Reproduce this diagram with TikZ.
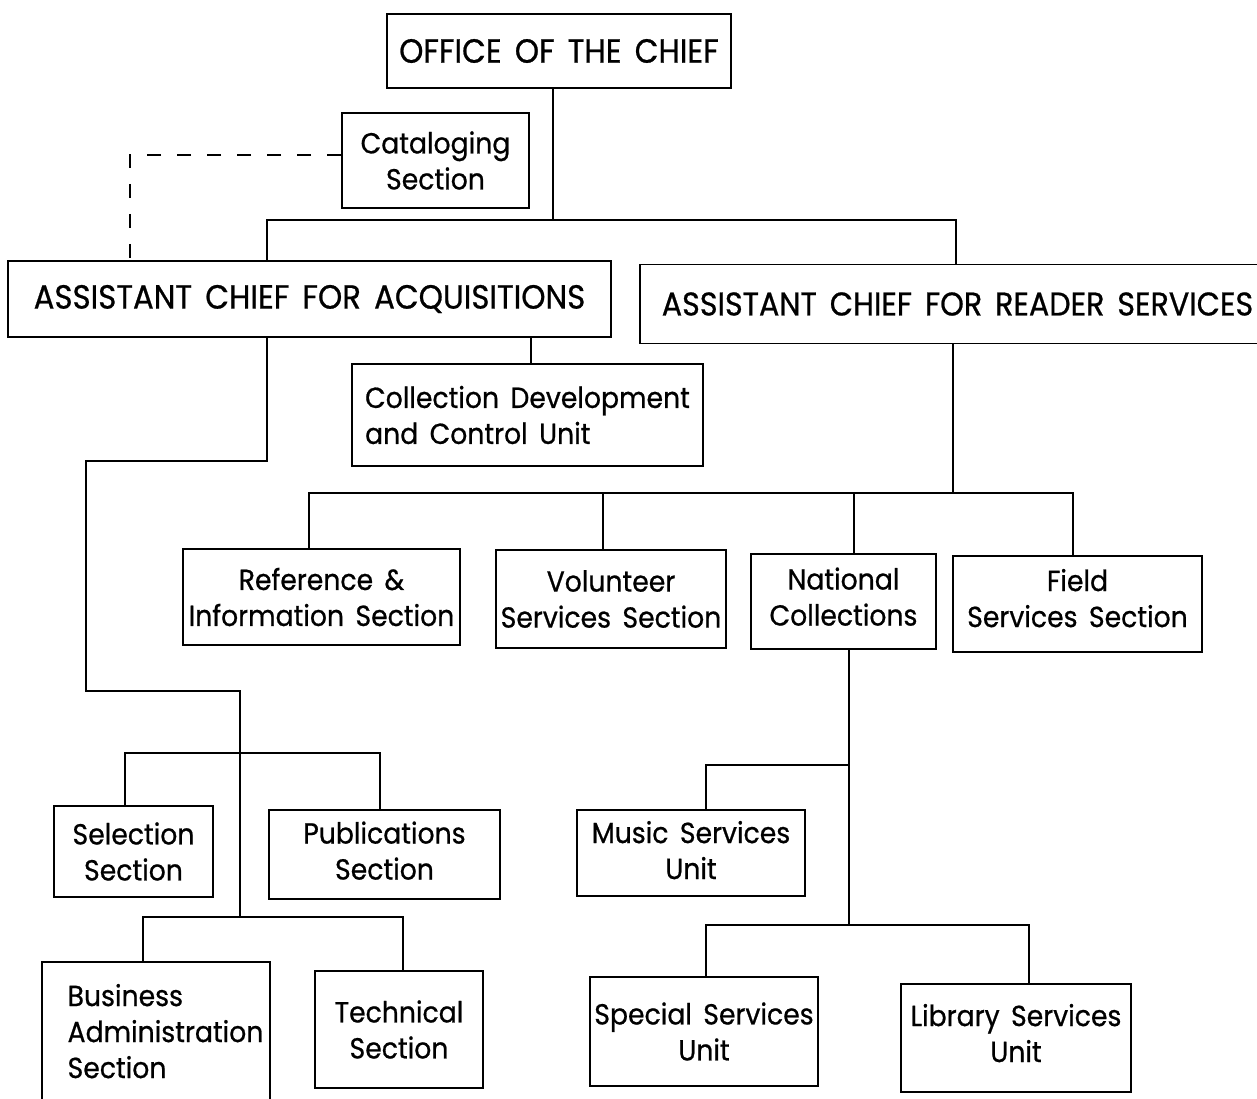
\documentclass[tikz,border=0pt]{standalone}
\usepackage{fontspec}
\setmainfont{Poppins}[FakeStretch=0.92, FakeBold=0.7, WordSpace=1.6]
\begin{document}
\begin{tikzpicture}[x=1pt,y=-1pt,
  unit/.style={draw, line width=1.6pt, rectangle, inner sep=0pt,
    font=\fontsize{29}{36}\selectfont, align=center},
  head/.style={unit, font=\fontsize{33.5}{40}\selectfont},
  wh/.style 2 args={minimum width=#1pt, minimum height=#2pt},
  lift/.style={text depth=#1pt},
  conn/.style={line width=1.6pt},
  link/.style={line width=1.6pt, dash pattern=on 14pt off 16pt}]
\useasboundingbox (0,0) rectangle (1257,1098);
\clip (0,0) rectangle (1257,1098);

% top level
\node[head, wh={344}{74}] (office) at (559,51) {OFFICE OF THE CHIEF};
\node[unit, wh={187}{95}] (cat) at (435.5,160.5) {Cataloging\\Section};
\node[head, wh={603}{76}] (acq) at (309.5,299) {ASSISTANT CHIEF FOR ACQUISITIONS};
\node[head, wh={635}{79}, font=\fontsize{32.8}{40}\selectfont] (rs) at (957.5,304) {ASSISTANT CHIEF FOR READER SERVICES};

% acquisitions branch
\node[unit, wh={351}{102}, align=left] (cdc) at (527.5,415) {Collection Development\\and Control Unit};
\node[unit, wh={159}{91}] (sel) at (133.5,851.5) {Selection\\Section};
\node[unit, wh={231}{89}, lift=8] (pub) at (384.5,854.5) {Publications\\Section};
\node[unit, wh={228}{148}, align=left, lift=10] (bus) at (156,1036)
  {\hspace*{19pt}Business\\\hspace*{19pt}Administration\\\hspace*{19pt}Section};
\node[unit, wh={168}{117}] (tech) at (399,1029.5) {Technical\\Section};

% reader services branch
\node[unit, wh={277}{96}] (ref) at (321.5,597) {Reference \&\\Information Section};
\node[unit, wh={230}{98}] (vol) at (611,599) {Volunteer\\Services Section};
\node[unit, wh={185}{95}, lift=10] (nat) at (843.5,601.5) {National\\Collections};
\node[unit, wh={249}{96}, lift=12] (field) at (1077.5,604) {Field\\Services Section};
\node[unit, wh={228}{86}, lift=6] (music) at (691,853) {Music Services\\Unit};
\node[unit, wh={228}{109}] (spec) at (704,1031.5) {Special Services\\Unit};
\node[unit, wh={230}{108}, lift=10] (lib) at (1016,1038) {Library Services\\Unit};

% office to assistant chiefs
\coordinate (t) at (553,220);
\coordinate (tl) at (267,220);
\coordinate (tr) at (956,220);
\draw[conn] (office.south -| t) -- (t);
\draw[conn] (acq.north -| tl) -- (tl) -- (tr) -- (rs.north -| tr);

% cataloging liaison
\coordinate (dc) at (130,155);
\draw[link] (cat.west |- dc) -- (dc) -- (acq.north -| dc);

% acquisitions chain
\coordinate (ac) at (531,0);
\draw[conn] (acq.south -| ac) -- (cdc.north -| ac);
\coordinate (a1) at (267,461);
\coordinate (a2) at (86,461);
\coordinate (a3) at (86,691);
\coordinate (a4) at (240,691);
\coordinate (a5) at (240,917);
\draw[conn] (acq.south -| a1) -- (a1) -- (a2) -- (a3) -- (a4) -- (a5);
\coordinate (s1) at (125,753);
\coordinate (s2) at (380,753);
\draw[conn] (sel.north -| s1) -- (s1) -- (s2) -- (pub.north -| s2);
\coordinate (b1) at (143,917);
\coordinate (b2) at (403,917);
\draw[conn] (bus.north -| b1) -- (b1) -- (b2) -- (tech.north -| b2);

% reader services chain
\coordinate (r0) at (953,493);
\coordinate (r1) at (309,493);
\coordinate (r2) at (603,493);
\coordinate (r3) at (854,493);
\coordinate (r4) at (1073,493);
\draw[conn] (rs.south -| r0) -- (r0);
\draw[conn] (ref.north -| r1) -- (r1) -- (r4) -- (field.north -| r4);
\draw[conn] (r2) -- (vol.north -| r2);
\draw[conn] (r3) -- (nat.north -| r3);

% national collections chain
\coordinate (n0) at (849,925);
\coordinate (m1) at (849,765);
\coordinate (m2) at (706,765);
\coordinate (n1) at (706,925);
\coordinate (n2) at (1029,925);
\draw[conn] (nat.south -| n0) -- (n0);
\draw[conn] (m1) -- (m2) -- (music.north -| m2);
\draw[conn] (spec.north -| n1) -- (n1) -- (n2) -- (lib.north -| n2);
\end{tikzpicture}
\end{document}
